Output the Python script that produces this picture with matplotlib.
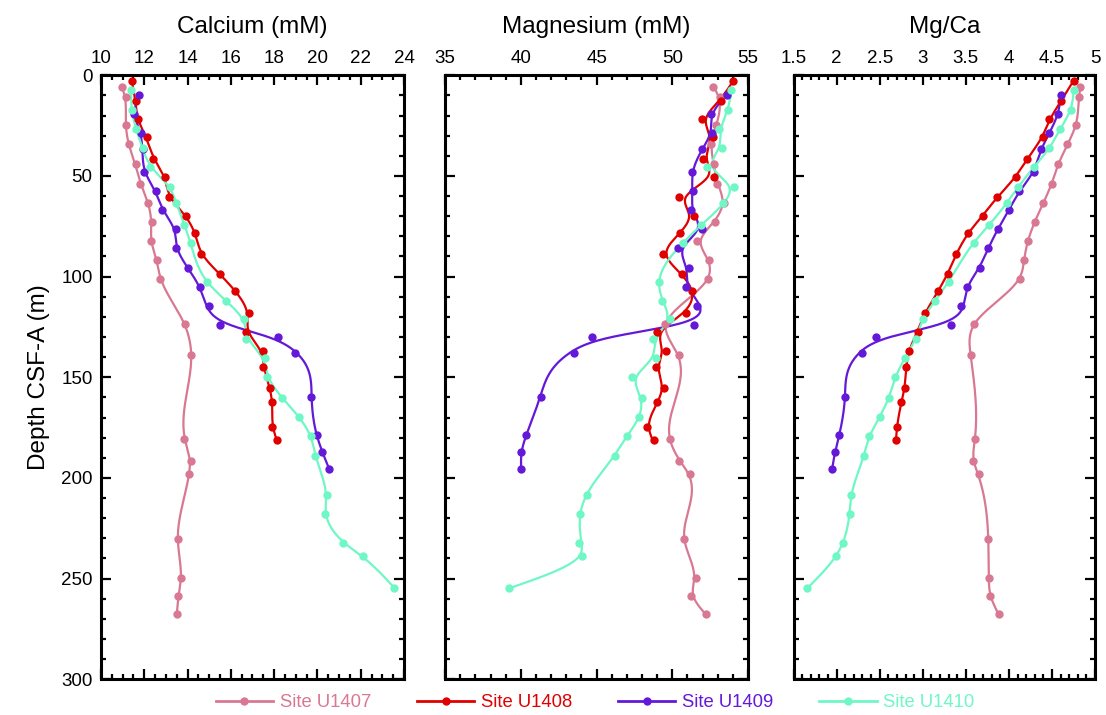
import numpy as np
import matplotlib
matplotlib.use("Agg")
import matplotlib.pyplot as plt
from matplotlib.ticker import MultipleLocator

plt.rcParams['font.family'] = ['Liberation Sans', 'DejaVu Sans']

# depths (m CSF-A) of the pore water samples
depth_1407 = [5.6, 11.0, 24.7, 34.3, 44.2, 53.8, 63.3, 72.9, 82.3, 91.7, 101.2, 123.5, 138.9,
              180.5, 191.6, 198.2, 230.3, 249.5, 258.5, 267.4]
depth_1408 = [2.7, 12.6, 21.9, 30.8, 41.4, 50.5, 60.6, 69.7, 78.2, 88.9, 98.5, 107.1, 117.9,
              127.3, 136.9, 144.9, 155.5, 162.5, 174.9, 181.3]
depth_1409 = [9.8, 19.3, 28.6, 36.8, 48.0, 57.5, 67.1, 76.5, 85.9, 95.7, 105.0, 114.6, 124.0,
              130.0, 137.8, 159.8, 178.9, 187.1, 195.4]
depth_1410 = [7.3, 17.2, 26.7, 36.3, 45.5, 55.3, 63.3, 74.4, 83.1, 102.6, 112.3, 120.9, 131.1,
              140.6, 150.0, 160.1, 169.6, 179.1, 188.9, 208.3, 217.8, 232.3, 239.0, 254.7]

# calcium (mM)
ca_1407 = [10.95, 11.14, 11.14, 11.28, 11.6, 11.82, 12.18, 12.34, 12.29, 12.6, 12.74, 13.86, 14.17,
           13.85, 14.14, 14.05, 13.54, 13.71, 13.57, 13.51]
ca_1408 = [11.42, 11.6, 11.69, 12.11, 12.42, 12.98, 13.14, 13.92, 14.35, 14.63, 15.48, 16.18, 16.83,
           16.69, 17.48, 17.48, 17.8, 17.92, 17.92, 18.14]
ca_1409 = [11.74, 11.52, 11.85, 11.92, 12.0, 12.54, 12.83, 13.46, 13.46, 14.02, 14.57, 14.98, 15.49,
           18.18, 18.95, 19.72, 19.97, 20.23, 20.54]
ca_1410 = [11.4, 11.42, 11.63, 11.95, 12.26, 13.2, 13.45, 13.85, 14.14, 14.89, 15.78, 16.62, 16.72,
           17.57, 17.68, 18.37, 19.14, 19.69, 19.89, 20.43, 20.37, 21.2, 22.12, 23.55]

# magnesium (mM)
mg_1407 = [52.67, 53.13, 52.9, 52.56, 52.76, 52.95, 53.39, 52.8, 51.65, 52.44, 52.38, 49.49, 50.42,
           49.82, 50.46, 51.15, 50.75, 51.56, 51.23, 52.22]
mg_1408 = [54.01, 53.19, 51.98, 52.69, 52.0, 52.75, 50.42, 51.41, 50.51, 49.41, 50.62, 51.3, 50.88,
           49.0, 49.56, 48.92, 49.43, 49.0, 48.35, 48.77]
mg_1409 = [53.61, 52.53, 52.64, 51.94, 51.32, 51.39, 51.21, 51.98, 50.4, 51.12, 50.88, 51.6, 51.45,
           44.71, 43.52, 41.3, 40.37, 40.02, 40.04]
mg_1410 = [53.9, 53.68, 53.11, 53.28, 52.29, 54.05, 53.33, 51.89, 50.73, 49.1, 49.34, 49.85, 48.72,
           48.9, 47.36, 48.0, 47.82, 46.98, 46.19, 44.34, 43.92, 43.85, 44.07, 39.21]

# Mg/Ca
mgca_1407 = [4.83, 4.81, 4.78, 4.68, 4.57, 4.5, 4.4, 4.3, 4.22, 4.17, 4.13, 3.59, 3.56,
             3.61, 3.58, 3.65, 3.76, 3.77, 3.78, 3.88]
mgca_1408 = [4.75, 4.61, 4.47, 4.39, 4.21, 4.08, 3.86, 3.7, 3.53, 3.39, 3.29, 3.18, 3.03,
             2.94, 2.84, 2.81, 2.79, 2.75, 2.7, 2.69]
mgca_1409 = [4.6, 4.57, 4.47, 4.37, 4.29, 4.12, 4.0, 3.87, 3.76, 3.66, 3.51, 3.44, 3.33,
             2.46, 2.3, 2.1, 2.03, 1.98, 1.95]
mgca_1410 = [4.75, 4.72, 4.59, 4.47, 4.29, 4.11, 3.98, 3.77, 3.59, 3.3, 3.14, 3.0, 2.92,
             2.79, 2.68, 2.61, 2.5, 2.38, 2.32, 2.17, 2.15, 2.07, 1.99, 1.66]

sites = ["Site U1407", "Site U1408", "Site U1409", "Site U1410"]
colors = ["#d97892", "#e00000", "#6418d8", "#6ff7c6"]
depths = [depth_1407, depth_1408, depth_1409, depth_1410]
panels = [
    ("Calcium (mM)", [ca_1407, ca_1408, ca_1409, ca_1410], (10, 24), 2, 0.5),
    ("Magnesium (mM)", [mg_1407, mg_1408, mg_1409, mg_1410], (35, 55), 5, 1),
    ("Mg/Ca", [mgca_1407, mgca_1408, mgca_1409, mgca_1410], (1.5, 5), 0.5, 0.1),
]


def smooth(z, v, lam=30.0, dz=0.5):
    # penalised (smoothing spline like) fit of the profile on a fine depth grid
    z = np.asarray(z, float)
    v = np.asarray(v, float)
    grid = np.arange(z.min(), z.max() + dz / 2, dz)
    n = len(grid)
    B = np.zeros((len(z), n))
    for k, zk in enumerate(z):
        j = min(int((zk - grid[0]) / dz), n - 2)
        t = (zk - grid[j]) / dz
        B[k, j] = 1 - t
        B[k, j + 1] = t
    D = np.diff(np.eye(n), 2, axis=0) / dz ** 2
    f = np.linalg.solve(B.T @ B + lam * dz * D.T @ D, B.T @ v)
    return grid, f


fig = plt.figure(figsize=(11.06, 7.15), dpi=100)
lefts = [0.0913, 0.4024, 0.7175]
widths = [0.274, 0.274, 0.2726]

for i, (title, series, xlim, major, minor) in enumerate(panels):
    ax = fig.add_axes([lefts[i], 0.050, widths[i], 0.8447])
    for d, vals, c in zip(depths, series, colors):
        gz, gv = smooth(d, vals)
        ax.plot(gv, gz, color=c, lw=1.6, zorder=2)
        ax.plot(vals, d, 'o', color=c, ms=6, mec='none', zorder=3)
    ax.set_xlim(*xlim)
    ax.set_ylim(300, 0)
    ax.xaxis.set_major_locator(MultipleLocator(major))
    ax.xaxis.set_minor_locator(MultipleLocator(minor))
    ax.xaxis.set_major_formatter(lambda x, pos: f"{x:g}")
    ax.yaxis.set_major_locator(MultipleLocator(50))
    ax.yaxis.set_minor_locator(MultipleLocator(10))
    ax.tick_params(which='both', direction='in', top=True, bottom=True, left=True, right=True,
                   labeltop=True, labelbottom=False, labelleft=(i == 0), labelsize=13.5,
                   width=1.6)
    ax.tick_params(which='major', length=7, pad=6)
    ax.tick_params(which='minor', length=3.5)
    for s in ax.spines.values():
        s.set_linewidth(2.2)
    ax.set_title(title, fontsize=17.5, pad=12)
    if i == 0:
        ax.set_ylabel("Depth CSF-A (m)", fontsize=17.5, labelpad=8)

handles = [plt.Line2D([], [], color=c, lw=2, marker='o', ms=5) for c in colors]
leg = fig.legend(handles, sites, loc='center', bbox_to_anchor=(0.538, 0.017), ncol=4,
                 frameon=False, fontsize=13.3, handlelength=3.1, handletextpad=0.35,
                 columnspacing=2.5)
for t, c in zip(leg.get_texts(), colors):
    t.set_color(c)

fig.savefig("out.png", dpi=100)
